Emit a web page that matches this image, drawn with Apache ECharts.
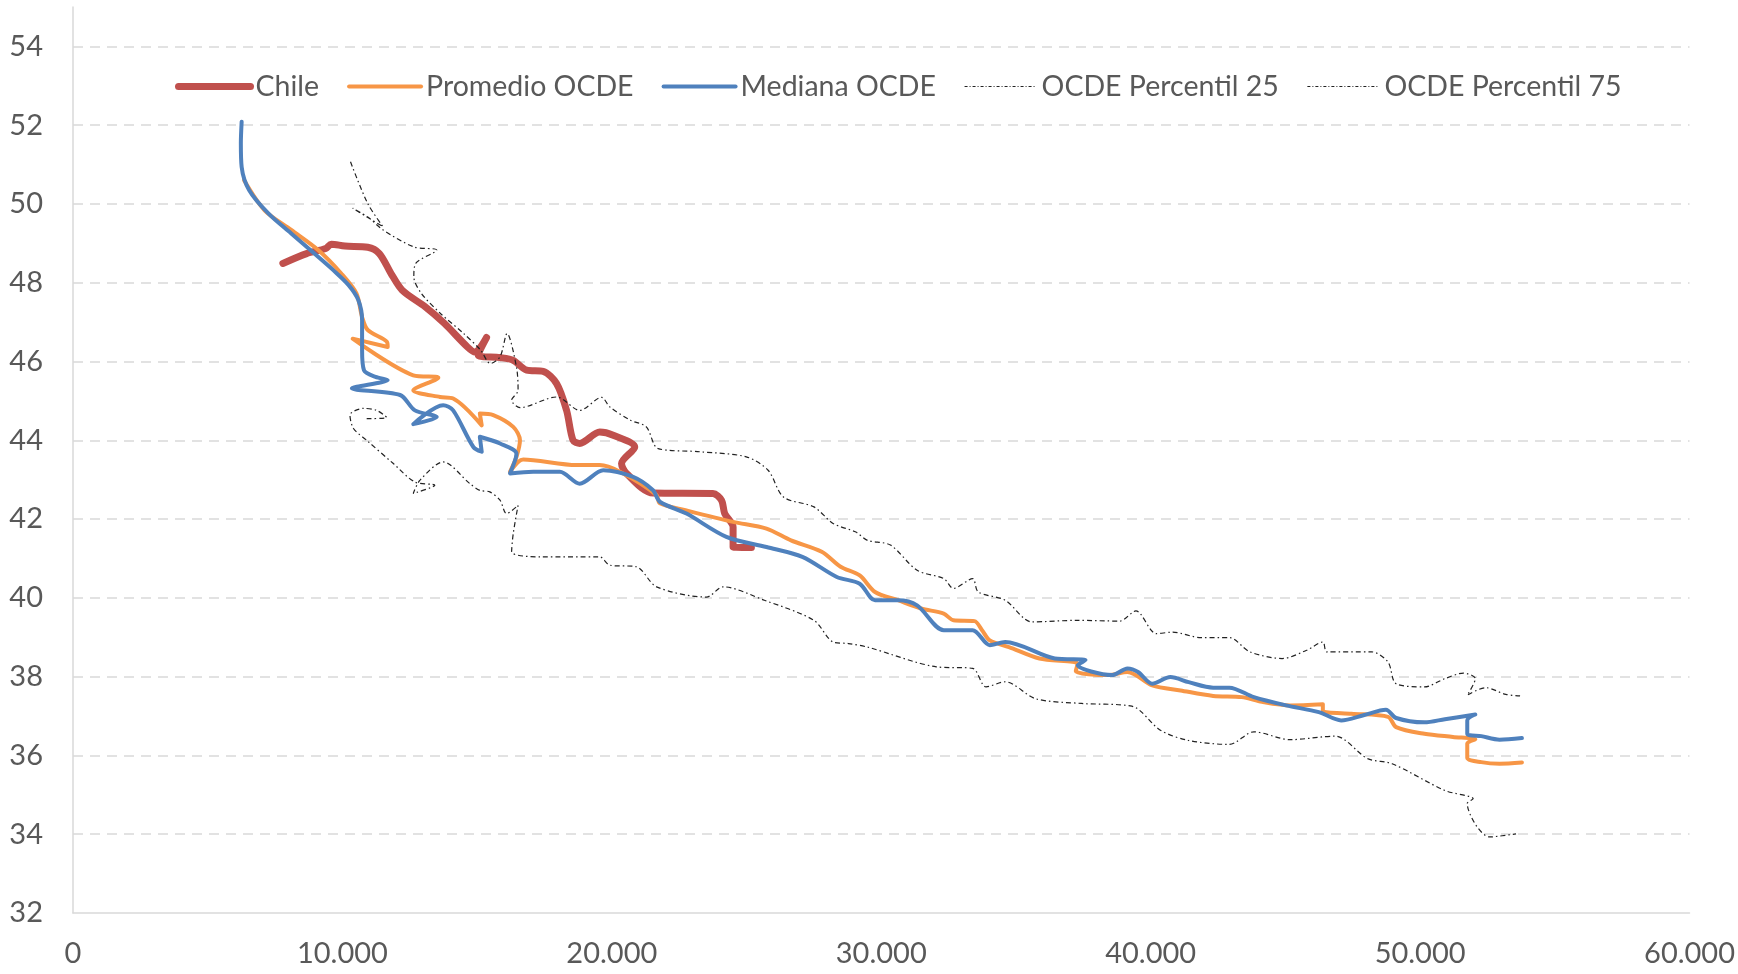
<!DOCTYPE html>
<html>
<head>
<meta charset="utf-8">
<script src="https://cdn.jsdelivr.net/npm/echarts@6/dist/echarts.min.js"></script>
<style>
  html, body { margin: 0; padding: 0; background: #fff; }
  #canva { width: 1738px; height: 974px; }
</style>
</head>
<body>
<div id="canva"></div>
<script>
// ========== Data (x = income, y = value) ==========
const chileData = [
    [7790, 48.49], [8670, 48.74], [9380, 48.87], [9590, 48.98], [10090, 48.93], [10940, 48.90],
    [11370, 48.74], [11800, 48.24], [12220, 47.81], [13070, 47.39], [13780, 46.97], [14640, 46.37],
    [14920, 46.24], [15350, 46.61], [15040, 46.16], [15850, 46.10], [16340, 46.03], [16840, 45.78],
    [17450, 45.75], [17950, 45.44], [18320, 44.76], [18560, 44.00], [18810, 43.92], [19550, 44.21],
    [20050, 44.13], [20850, 43.83], [20360, 43.41], [20540, 43.16], [21530, 42.66], [23750, 42.65],
    [24070, 42.48], [24190, 42.14], [24500, 41.80], [24500, 41.29], [25180, 41.28]
];

const promedioData = [
    [6350, 50.60], [7110, 49.84], [8100, 49.34], [9100, 48.83], [9950, 48.24], [10520, 47.73],
    [10730, 47.13], [10940, 46.80], [11650, 46.50], [11680, 46.37], [10380, 46.58], [12630, 45.65],
    [13560, 45.59], [12630, 45.27], [13620, 45.10], [14110, 45.06], [15170, 44.38], [15100, 44.68],
    [15600, 44.64], [16340, 44.34], [16590, 44.00], [16460, 43.58], [16220, 43.20], [16710, 43.51],
    [18690, 43.37], [19550, 43.37], [20300, 43.20], [21660, 42.61], [21780, 42.40], [22770, 42.22],
    [24500, 41.93], [25740, 41.76], [26650, 41.46], [27790, 41.17], [28490, 40.79], [29200, 40.57],
    [29770, 40.15], [30620, 39.94], [31480, 39.73], [32320, 39.60], [32680, 39.43], [33460, 39.41],
    [33740, 39.18], [34030, 38.92], [34740, 38.75], [35870, 38.46], [37290, 38.33], [37220, 38.14],
    [38430, 38.04], [39140, 38.12], [40060, 37.78], [41110, 37.65], [42320, 37.51], [43380, 37.48],
    [44130, 37.36], [45180, 37.27], [46390, 37.30], [46390, 37.13], [47450, 37.06], [48810, 36.98],
    [49110, 36.72], [50160, 36.55], [51220, 36.47], [52050, 36.41], [51750, 36.30], [51750, 35.94],
    [52270, 35.83], [52950, 35.79], [53780, 35.82]
];

const medianaData = [
    [6260, 52.09], [6230, 51.54], [6260, 50.94], [6540, 50.35], [7250, 49.76], [8100, 49.25],
    [8960, 48.74], [9660, 48.32], [10230, 47.94], [10590, 47.56], [10730, 47.05], [10730, 46.29],
    [10800, 45.78], [11230, 45.61], [11680, 45.53], [10350, 45.32], [12140, 45.15], [12690, 44.76],
    [13500, 44.59], [12630, 44.41], [13740, 44.89], [14110, 44.76], [14860, 43.83], [15170, 43.71],
    [15100, 44.09], [15850, 43.92], [16460, 43.66], [16220, 43.16], [17080, 43.20], [18070, 43.20],
    [18810, 42.90], [19680, 43.24], [20790, 43.07], [21530, 42.73], [21780, 42.44], [22770, 42.14],
    [24250, 41.55], [25740, 41.29], [27070, 41.04], [28350, 40.53], [29200, 40.36], [29770, 39.94],
    [30620, 39.94], [31330, 39.81], [32320, 39.18], [33390, 39.18], [34030, 38.80], [34600, 38.88],
    [36440, 38.46], [37580, 38.42], [37290, 38.29], [38570, 38.04], [39140, 38.21], [39530, 38.12],
    [40060, 37.82], [40730, 37.99], [41410, 37.86], [42320, 37.72], [42920, 37.72], [43830, 37.48],
    [45030, 37.27], [46240, 37.10], [47070, 36.89], [47900, 37.02], [48730, 37.16], [49110, 36.95],
    [50160, 36.84], [50920, 36.92], [52050, 37.04], [51750, 36.89], [51750, 36.55], [52270, 36.49],
    [52950, 36.40], [53780, 36.44]
];

const p25Data = [
    [10900, 44.55], [11640, 44.58], [11270, 44.76], [10780, 44.81], [10280, 44.64], [10410, 44.30],
    [10900, 44.00], [11890, 43.41], [12690, 42.94], [13430, 42.86], [12630, 42.65], [12880, 42.99],
    [13740, 43.45], [14730, 42.90], [15100, 42.73], [15470, 42.69], [15850, 42.48], [16090, 42.14],
    [16520, 42.35], [16340, 41.63], [16280, 41.17], [17330, 41.04], [19550, 41.04], [19920, 40.83],
    [20910, 40.79], [21660, 40.28], [23510, 40.02], [24130, 40.28], [25660, 39.94], [27500, 39.43],
    [28210, 38.88], [28780, 38.84], [29490, 38.75], [32040, 38.25], [33390, 38.21], [33890, 37.74],
    [34600, 37.87], [35730, 37.44], [37430, 37.32], [39300, 37.25], [40360, 36.64], [41410, 36.38],
    [42920, 36.28], [43830, 36.60], [45180, 36.40], [46850, 36.49], [48050, 35.92], [48960, 35.79],
    [50920, 35.11], [51970, 34.90], [51750, 34.78], [52580, 33.93], [53560, 34.01]
];

const p75Data = [
    [10300, 51.07], [10940, 50.01], [11510, 49.42], [10380, 49.89], [10940, 49.67], [11510, 49.34],
    [12650, 48.91], [13500, 48.83], [12720, 48.49], [12650, 48.15], [12930, 47.73], [13640, 47.22],
    [14500, 46.71], [15130, 46.29], [15490, 45.95], [15850, 46.12], [16110, 46.71], [16460, 45.86],
    [16520, 45.27], [16280, 45.02], [16590, 44.83], [17950, 45.10], [18810, 44.76], [19620, 45.09],
    [19920, 44.85], [20690, 44.51], [21280, 44.34], [21720, 43.79], [23260, 43.71], [24990, 43.58],
    [25800, 43.24], [26370, 42.56], [27500, 42.31], [28210, 41.89], [29060, 41.67], [29490, 41.46],
    [30340, 41.34], [31330, 40.70], [32320, 40.49], [32680, 40.24], [33390, 40.49], [33600, 40.15],
    [34600, 39.94], [35590, 39.39], [37290, 39.43], [38850, 39.41], [39450, 39.67], [40210, 39.09],
    [40810, 39.13], [41870, 38.99], [42920, 38.99], [43680, 38.63], [44880, 38.46], [45790, 38.67],
    [46390, 38.88], [46540, 38.63], [48200, 38.63], [48810, 38.37], [49110, 37.82], [50160, 37.74],
    [50920, 37.95], [51610, 38.09], [52050, 37.95], [51750, 37.53], [52430, 37.72], [53180, 37.55],
    [53710, 37.51]
];

const seriesNames = ['Chile', 'Promedio OCDE', 'Mediana OCDE', 'OCDE Percentil 25', 'OCDE Percentil 75'];

// x tick labels use a dot as thousands separator
function xLabel(v) {
    return v === 0 ? '0' : (v / 1000) + '.000';
}

// ========== Chart ==========
var chartDom = document.getElementById('canva');
var myChart = echarts.init(chartDom);

const font = 'Lato, "Open Sans", sans-serif';
const gridGray = '#d9d9d9';
const dashStyle = { color: '#222', width: 1.2, type: [5, 3, 1.5, 3] };

function lineSeries(name, data, color, width, extra) {
    return Object.assign({
        name: name,
        type: 'line',
        data: data,
        smooth: 0.3,
        showSymbol: false,
        symbol: 'none',
        lineStyle: { color: color, width: width, cap: 'round', join: 'round' },
        itemStyle: { color: color },
        emphasis: { disabled: true }
    }, extra || {});
}

// legend entries: line only, no marker
const legendWidths = [7, 4, 4, 1.2, 1.2];
const legendData = seriesNames.map((n, i) => ({
    name: n,
    itemStyle: { color: 'transparent', borderWidth: 0, opacity: 0 },
    lineStyle: i < 3 ? { width: legendWidths[i], cap: 'round' } : { width: 1.2, type: [3, 2, 1, 2] }
}));

var option = {
    animation: false,
    backgroundColor: '#fff',
    textStyle: { fontFamily: font },
    grid: { left: 73, right: 47, top: 7, bottom: 61 },
    legend: {
        data: legendData,
        left: 175,
        top: 72,
        padding: 0,
        itemWidth: 72,
        itemHeight: 14,
        itemGap: 28,
        itemStyle: { color: 'transparent', borderWidth: 0, opacity: 0 },
        textStyle: { fontFamily: font, fontSize: 28.5, color: '#595959' }
    },
    xAxis: {
        type: 'value',
        min: 0,
        max: 60000,
        interval: 10000,
        axisLine: { show: true, lineStyle: { color: gridGray, width: 1.5 } },
        axisTick: { show: false },
        splitLine: { show: false },
        axisLabel: { formatter: xLabel, fontSize: 29, color: '#595959', margin: 26, fontFamily: font }
    },
    yAxis: {
        type: 'value',
        min: 32,
        max: 55,
        interval: 2,
        axisLine: { show: true, lineStyle: { color: gridGray, width: 1.5 } },
        axisTick: { show: false },
        splitLine: {
            show: true,
            showMinLine: false,
            showMaxLine: false,
            lineStyle: { color: gridGray, width: 1.5, type: [10, 7] }
        },
        axisLabel: { showMaxLabel: false, fontSize: 29, color: '#595959', margin: 30, fontFamily: font }
    },
    series: [
        lineSeries('Chile', chileData, '#c0504d', 7),
        lineSeries('Promedio OCDE', promedioData, '#f79646', 4),
        lineSeries('Mediana OCDE', medianaData, '#4f81bd', 4),
        lineSeries('OCDE Percentil 25', p25Data, '#222', 1.2, { lineStyle: dashStyle }),
        lineSeries('OCDE Percentil 75', p75Data, '#222', 1.2, { lineStyle: dashStyle })
    ]
};
option && myChart.setOption(option);
</script>
</body>
</html>
